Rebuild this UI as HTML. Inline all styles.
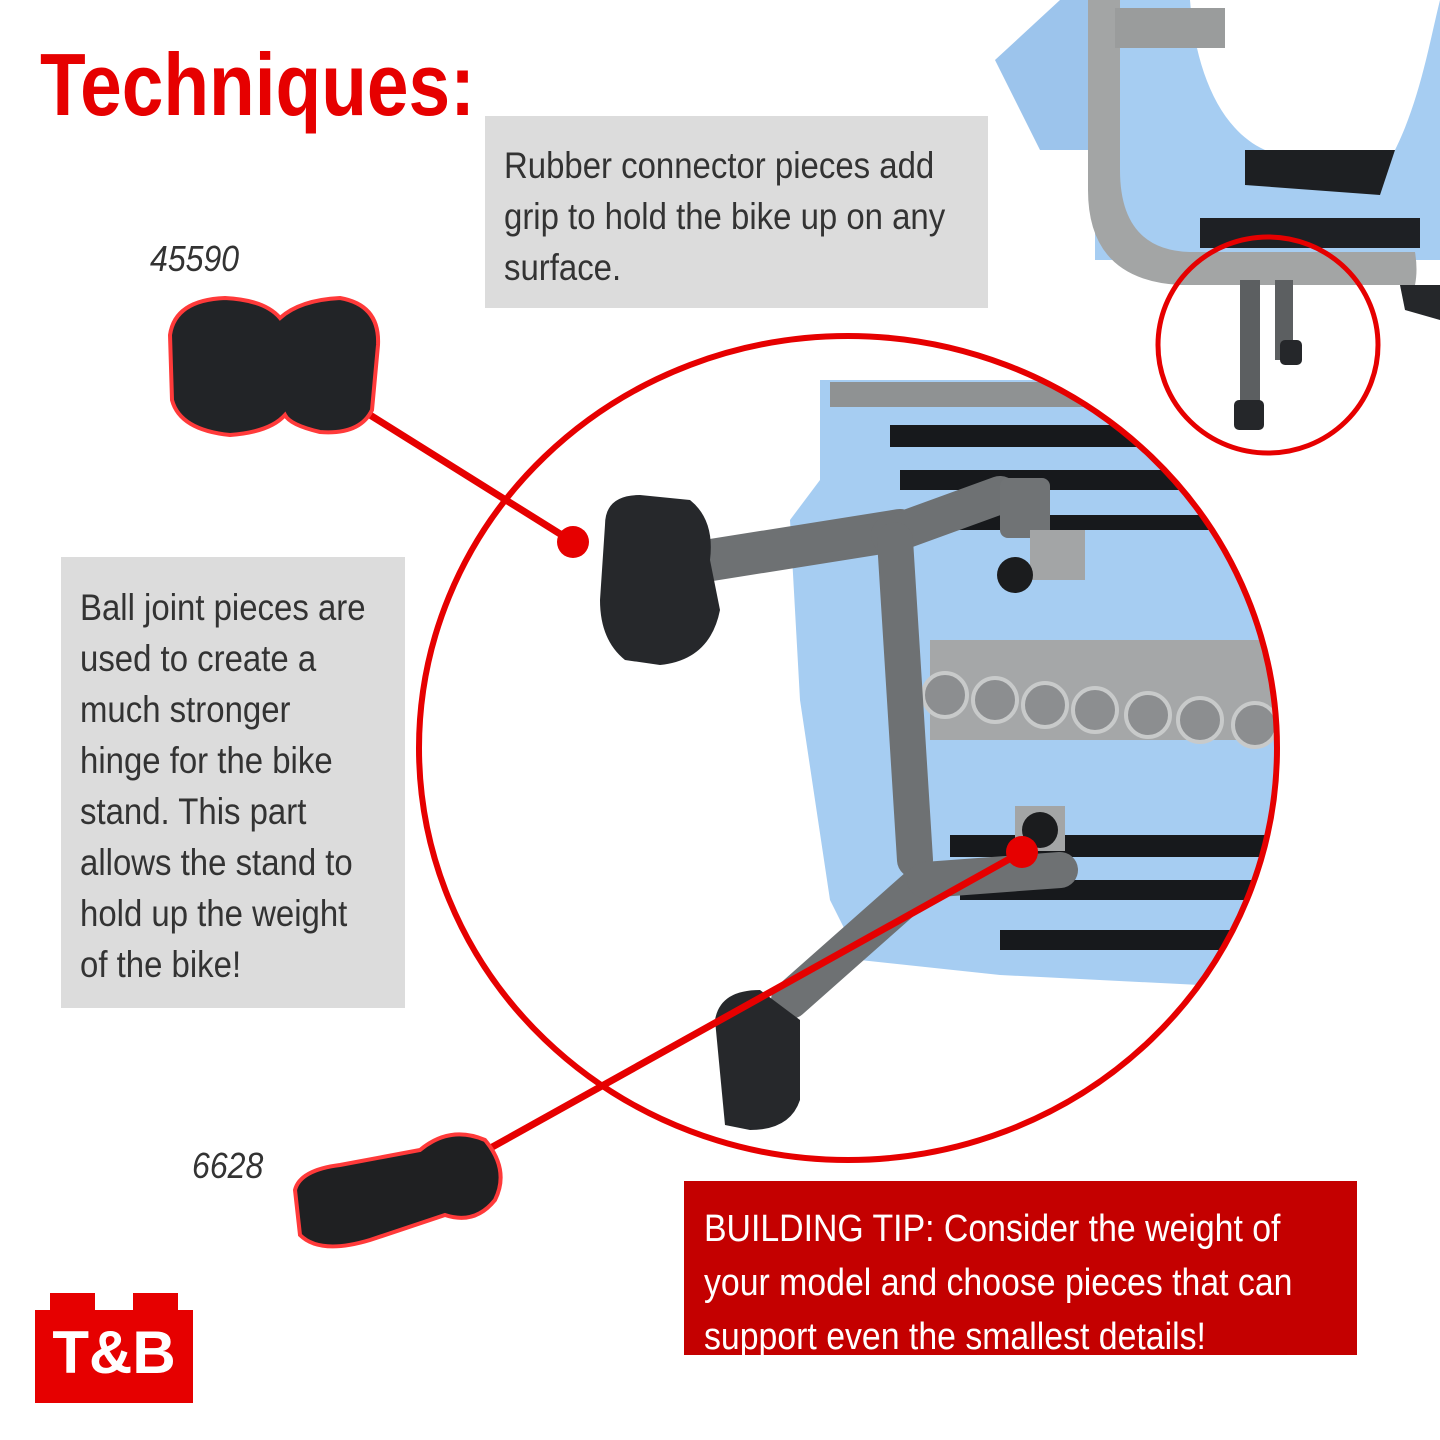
<!DOCTYPE html>
<html><head><meta charset="utf-8"><style>
body{margin:0;width:1440px;height:1440px;background:#fff;position:relative;overflow:hidden;font-family:"Liberation Sans",sans-serif}
.t{position:absolute}
.s{transform:scaleX(0.89);transform-origin:0 0;white-space:nowrap}
</style></head><body>
<svg class="t" style="left:0;top:0" width="1440" height="1440">
<defs><clipPath id="c"><ellipse cx="848" cy="748" rx="429" ry="412"/></clipPath></defs>
<path d="M995 60 L1060 0 L1100 0 L1100 150 L1040 150 Z" fill="#9cc4ec"/>
<rect x="1095" y="0" width="345" height="260" fill="#a6cdf2"/>
<path d="M1190 0 C1195 70 1220 130 1265 150 L1395 150 C1420 100 1430 40 1440 0 Z" fill="#fff"/>
<path d="M1245 150 L1395 150 L1380 195 L1245 185 Z" fill="#1d1f22"/>
<rect x="1200" y="218" width="220" height="30" fill="#1e2024"/>
<path d="M1088 0 L1120 0 L1120 170 Q1120 250 1190 252 L1415 252 Q1418 270 1415 285 L1180 285 Q1088 280 1088 190 Z" fill="#a3a5a5"/>
<rect x="1115" y="8" width="110" height="40" fill="#9a9c9c"/>
<rect x="1240" y="280" width="20" height="130" fill="#5c5f61"/>
<rect x="1275" y="280" width="18" height="80" fill="#5c5f61"/>
<rect x="1234" y="400" width="30" height="30" rx="5" fill="#25272a"/>
<rect x="1280" y="340" width="22" height="25" rx="5" fill="#25272a"/>
<path d="M1400 285 L1440 285 L1440 320 L1405 310 Z" fill="#25272a"/>
<ellipse cx="1268" cy="345" rx="110" ry="108" fill="none" stroke="#e60000" stroke-width="5"/>
<g clip-path="url(#c)">
<path d="M820 380 L1300 380 L1300 1000 L1200 985 L1000 975 L860 960 L830 900 L800 700 L790 520 L820 480 Z" fill="#a6cdf2"/>
<rect x="830" y="382" width="470" height="25" fill="#8f9293"/>
<rect x="890" y="425" width="410" height="22" fill="#17191c"/>
<rect x="900" y="470" width="400" height="20" fill="#17191c"/>
<rect x="920" y="515" width="380" height="15" fill="#17191c"/>
<rect x="930" y="640" width="370" height="100" fill="#a5a7a8"/>
<g fill="#8c8e90" stroke="#c8caca" stroke-width="4">
<circle cx="945" cy="695" r="22"/><circle cx="995" cy="700" r="22"/><circle cx="1045" cy="705" r="22"/><circle cx="1095" cy="710" r="22"/><circle cx="1148" cy="715" r="22"/><circle cx="1200" cy="720" r="22"/><circle cx="1255" cy="725" r="22"/></g>
<rect x="950" y="835" width="350" height="22" fill="#17191c"/>
<rect x="960" y="880" width="340" height="20" fill="#17191c"/>
<rect x="1000" y="930" width="300" height="20" fill="#17191c"/>
</g>
<ellipse cx="848" cy="748" rx="429" ry="412" fill="none" stroke="#e60000" stroke-width="6"/>
<g stroke-linecap="round" fill="none">
<line x1="680" y1="565" x2="900" y2="530" stroke="#6e7173" stroke-width="42"/>
<line x1="890" y1="535" x2="1000" y2="495" stroke="#6e7173" stroke-width="38"/>
<line x1="895" y1="540" x2="915" y2="860" stroke="#6e7173" stroke-width="36"/>
<line x1="920" y1="885" x2="790" y2="1000" stroke="#6e7173" stroke-width="38"/>
<line x1="925" y1="880" x2="1060" y2="870" stroke="#6e7173" stroke-width="36"/>
</g>
<rect x="1000" y="478" width="50" height="60" rx="8" fill="#707375"/>
<rect x="1030" y="530" width="55" height="50" fill="#a3a5a6"/>
<circle cx="1015" cy="575" r="18" fill="#1b1c1e"/>
<rect x="1015" y="806" width="50" height="45" fill="#a3a5a6"/>
<circle cx="1040" cy="830" r="18" fill="#1b1c1e"/>
<path d="M605 525 Q605 495 640 495 L690 500 Q715 520 710 560 L720 610 Q710 660 660 665 L625 660 Q600 640 600 600 Z" fill="#26282b"/>
<path d="M715 1020 Q720 990 760 990 L800 1020 L800 1100 Q790 1130 750 1130 L725 1125 Z" fill="#26282b"/>
<line x1="370" y1="415" x2="573" y2="542" stroke="#e60000" stroke-width="7"/>
<circle cx="573" cy="542" r="16" fill="#e60000"/>
<line x1="1022" y1="852" x2="460" y2="1165" stroke="#e60000" stroke-width="7"/>
<circle cx="1022" cy="852" r="16" fill="#e60000"/>
<path d="M170 335 Q175 300 225 298 Q265 300 280 318 Q300 300 340 298 Q380 305 378 345 L372 410 Q360 435 320 432 Q290 425 285 415 Q270 432 230 435 Q180 430 172 400 Z" fill="#222427" stroke="#ff3a3a" stroke-width="4"/>
<path d="M295 1190 Q300 1170 340 1165 L420 1150 Q450 1125 485 1140 Q510 1170 495 1200 Q475 1225 445 1215 L370 1240 Q320 1255 300 1235 Z" fill="#1f2022" stroke="#ff3a3a" stroke-width="4"/>
<rect x="50" y="1293" width="45" height="20" fill="#e60000"/>
<rect x="133" y="1293" width="45" height="20" fill="#e60000"/>
<rect x="35" y="1310" width="158" height="93" fill="#e60000"/>
</svg>
<div class="t" style="left:40px;top:34px;font-size:88px;font-weight:bold;color:#e60000;transform:scaleX(0.85);transform-origin:0 0;white-space:nowrap">Techniques:</div>
<div class="t" style="left:485px;top:116px;width:503px;height:192px;background:#dcdcdc"></div>
<div class="t s" style="left:504px;top:140px;font-size:37px;line-height:51px;color:#333">Rubber connector pieces add<br>grip to hold the bike up on any<br>surface.</div>
<div class="t" style="left:150px;top:238px;font-size:36px;font-style:italic;color:#333;transform:scaleX(0.89);transform-origin:0 0">45590</div>
<div class="t" style="left:192px;top:1145px;font-size:36px;font-style:italic;color:#333;transform:scaleX(0.89);transform-origin:0 0">6628</div>
<div class="t" style="left:61px;top:557px;width:344px;height:451px;background:#dcdcdc"></div>
<div class="t s" style="left:80px;top:582px;font-size:37px;line-height:51px;color:#333">Ball joint pieces are<br>used to create a<br>much stronger<br>hinge for the bike<br>stand. This part<br>allows the stand to<br>hold up the weight<br>of the bike!</div>
<div class="t" style="left:684px;top:1181px;width:673px;height:174px;background:#c40000"></div>
<div class="t s" style="left:704px;top:1202px;font-size:38px;line-height:54px;color:#fff">BUILDING TIP: Consider the weight of<br>your model and choose pieces that can<br>support even the smallest details!</div>
<div class="t" style="left:35px;top:1318px;width:158px;text-align:center;font-size:60px;font-weight:bold;color:#fff">T&amp;B</div>
</body></html>
